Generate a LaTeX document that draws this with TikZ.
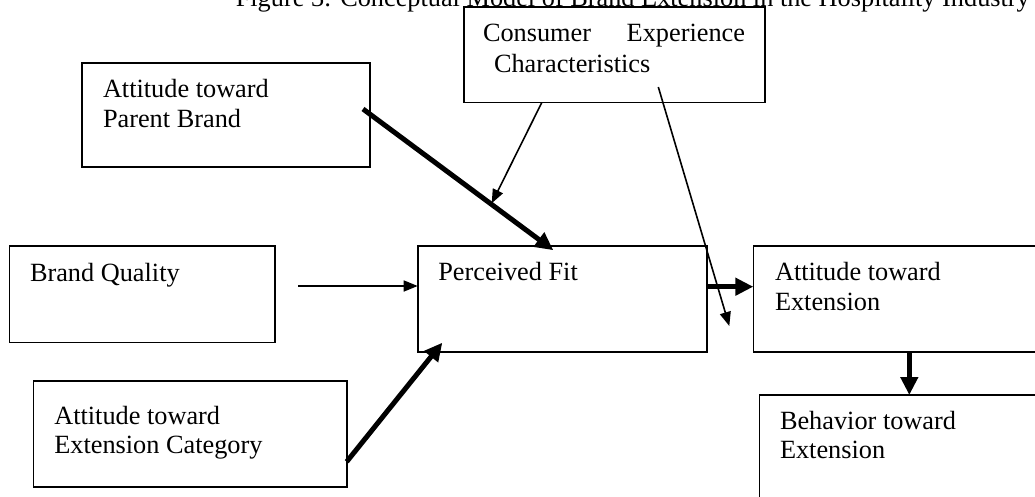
\documentclass[tikz,border=0pt]{standalone}
\usepackage{fontspec}
\setmainfont{Liberation Serif}
\usetikzlibrary{arrows.meta,calc}
\tikzset{
  box/.style={draw, line width=1.6pt, inner sep=0pt, outer sep=0pt, anchor=north west},
  txt/.style={anchor=base west, inner sep=0pt, outer sep=0pt, font=\fontsize{26.3}{29.5}\selectfont},
  thinarrow/.style={line width=1.6pt, -{Triangle[length=14pt,width=11pt]}},
  thickarrow/.style={line width=5pt, -{Triangle[length=18pt,width=17pt]}},
}
\newcommand{\boxlines}[1]{\parbox[t]{260pt}{\fontsize{26.3}{29.5}\selectfont #1}}
\begin{document}
\begin{tikzpicture}[x=1pt,y=-1pt]
\useasboundingbox (0,0) rectangle (1035,497);
\clip (0,0) rectangle (1035,497);
% title (cut at the top edge)
\node[anchor=base east, inner sep=0pt, font=\fontsize{26.3}{29.5}\selectfont] (title) at (1030,7)
  {Figure 3: Conceptual Model of Brand Extension in the Hospitality Industry};
% boxes
\node[box, minimum width=288pt, minimum height=104pt] (pb) at (82,63) {};
\node[box, minimum width=301pt, minimum height=95.4pt] (cc) at (464,7.3) {};
\node[box, minimum width=265.7pt, minimum height=96.6pt] (bq) at (9.3,245.7) {};
\node[box, minimum width=289pt, minimum height=106pt] (fit) at (417.7,245.7) {};
\node[box, minimum width=300pt, minimum height=106pt] (ae) at (753.3,245.7) {};
\node[box, minimum width=300pt, minimum height=130pt] (bh) at (759.3,395) {};
\node[box, minimum width=313.4pt, minimum height=105.7pt] (ec) at (33.3,381) {};
% texts
\node[txt] (pbt) at (103,98) {\boxlines{Attitude toward\\Parent Brand}};
\node[txt] (cct) at (483,41.5) {\parbox[t]{270pt}{\fontsize{26.3}{31.5}\selectfont\makebox[262pt][s]{Consumer\hfill Experience}\\\hspace*{11pt}Characteristics}};
\node[txt] (bqt) at (30,281.7) {Brand Quality};
\node[txt] (fitt) at (438.3,280.7) {Perceived Fit};
\node[txt] (aet) at (775,280.7) {\boxlines{Attitude toward\\Extension}};
\node[txt] (bht) at (780,429.3) {\boxlines{Behavior toward\\Extension}};
\node[txt] (ect) at (54.3,424) {\boxlines{Attitude toward\\Extension Category}};
% free ends
\coordinate (ccfree) at ($(cc.south west)+(27.7,100.6)$);
\coordinate (aefree) at ($(cc.south west)+(265.3,223.3)$);
\coordinate (bqfree) at ($(bq.north east)+(23.3,40.3)$);
% connectors
\draw[thickarrow] ($(pb.north east)+(-7,46)$) -- ($(fit.north west)+(135.6,4.5)$);
\draw[thinarrow] ($(cc.south west)+(77.7,0)$) -- (ccfree);
\draw[thinarrow] ($(cc.south west)+(194.3,-15.7)$) -- (aefree);
\draw[thinarrow] (bqfree) -- ($(fit.north west)+(0,40.3)$);
\draw[thickarrow] ($(ec.north east)+(0,80.7)$) -- ($(fit.south west)+(24.6,-9)$);
\draw[thickarrow] ($(fit.north east)+(0,41)$) -- ($(ae.north west)+(0,41)$);
\draw[thickarrow] ($(ae.south west)+(156,0)$) -- ($(bh.north west)+(150,0)$);
\end{tikzpicture}
\end{document}
